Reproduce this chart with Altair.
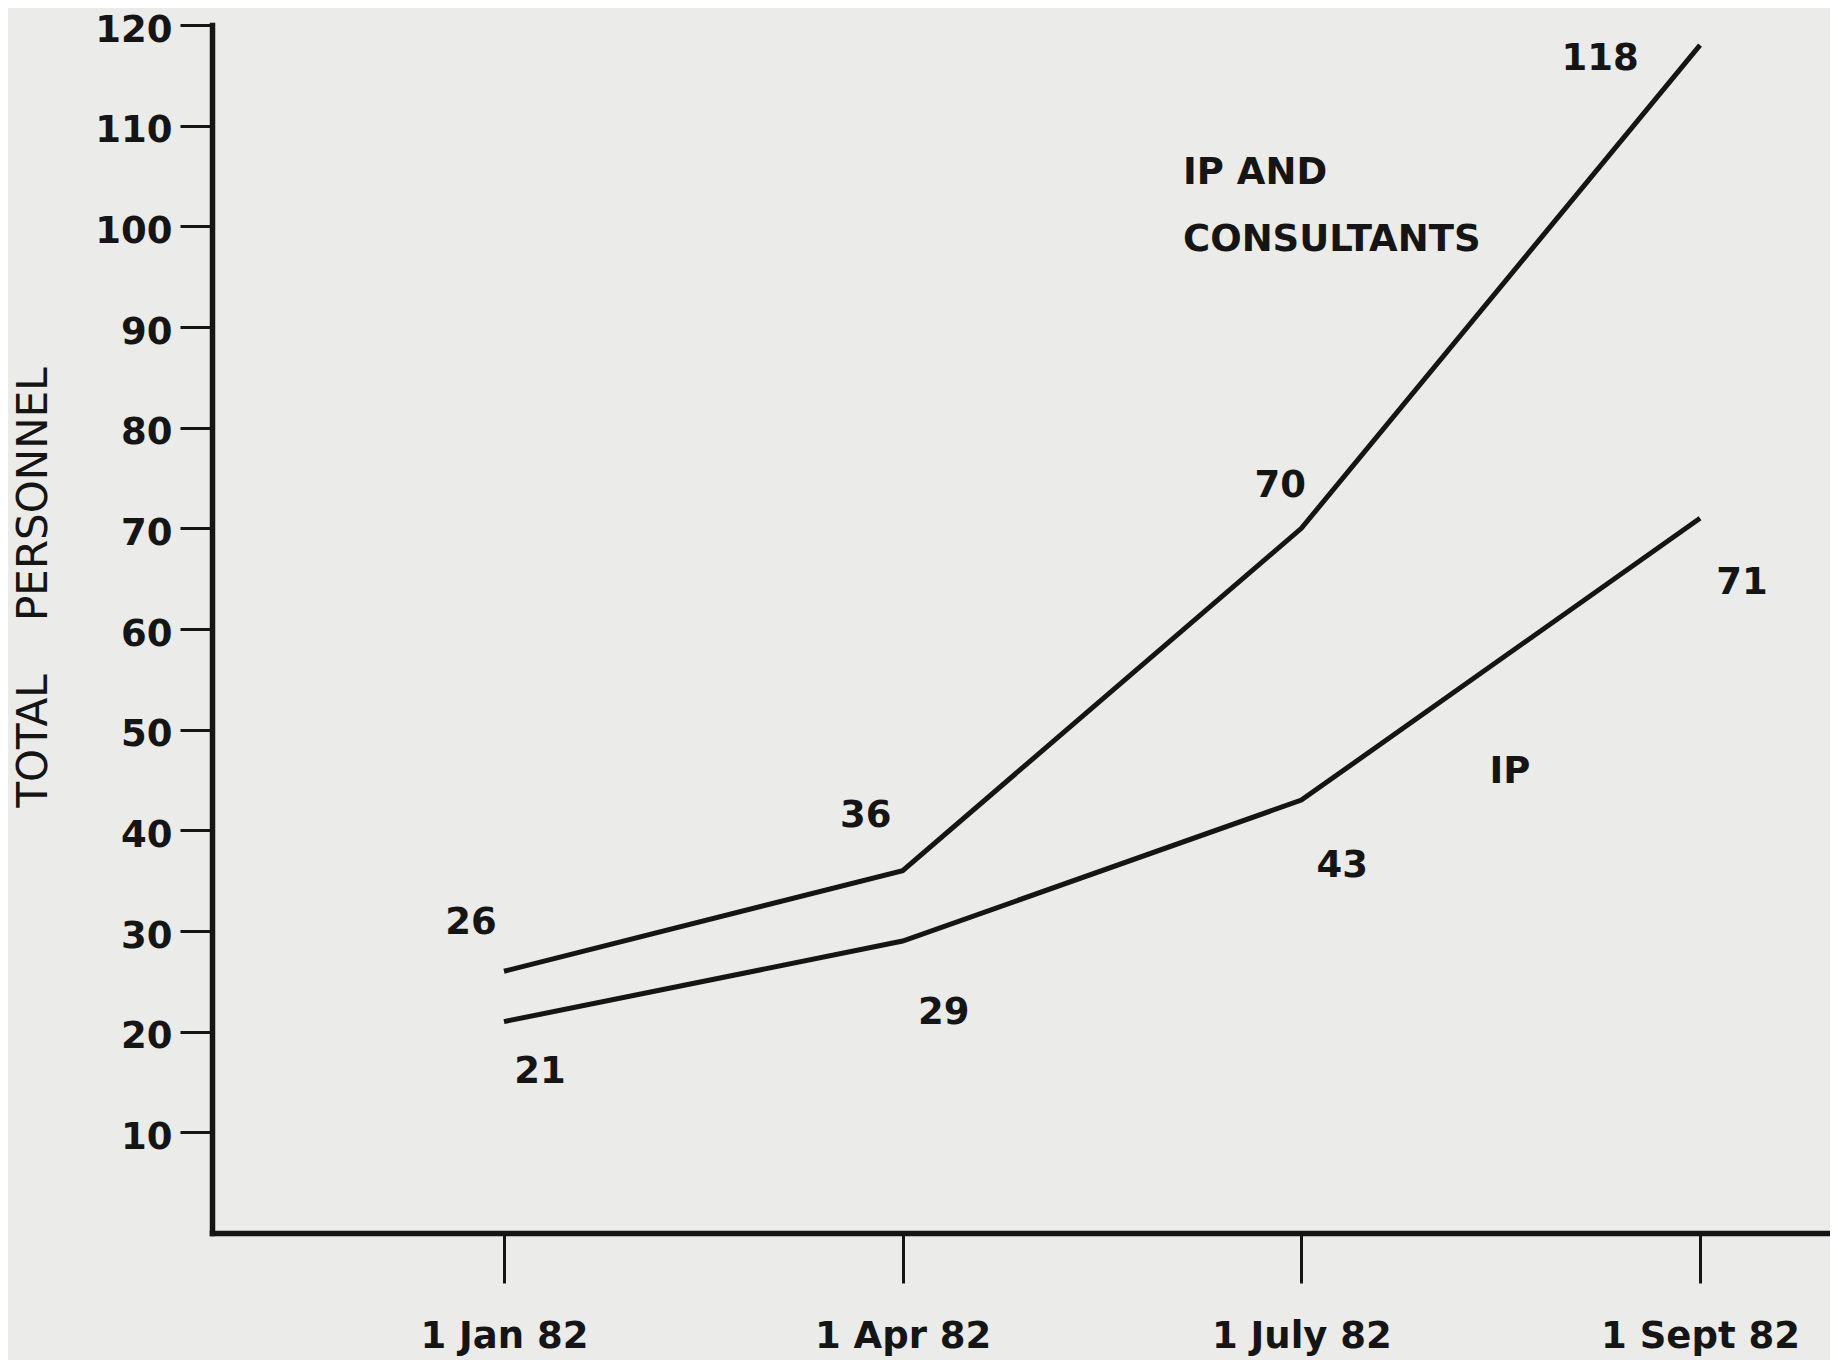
import json
import altair as alt
import pandas as pd

# ---- data ----
dates = ["1 Jan 82", "1 Apr 82", "1 July 82", "1 Sept 82"]
ip_and_consultants = [26, 36, 70, 118]
ip_only = [21, 29, 43, 71]
y_tick_values = [10, 20, 30, 40, 50, 60, 70, 80, 90, 100, 110, 120]
series_names = ["IP AND CONSULTANTS", "IP"]

rows = []
for name, vals in zip(series_names, [ip_and_consultants, ip_only]):
    for i, (d, v) in enumerate(zip(dates, vals)):
        rows.append({"idx": i, "date": d, "value": v, "series": name})
df = pd.DataFrame(rows)

# ---- styling constants ----
INK = "#151515"
BG = "#ebebe9"
BOLD_FONT = "DejaVu Sans"
FS = 37
NBSP = "\u00a0"

x_scale = alt.Scale(domain=[-0.7324, 3.326], nice=False, zero=False)
y_scale = alt.Scale(domain=[0, 120], nice=False, zero=True)

label_expr = json.dumps(dates) + "[datum.value]"

base = alt.Chart(df)

lines = base.mark_line(strokeWidth=5, color=INK, strokeJoin="miter").encode(
    x=alt.X(
        "idx:Q",
        scale=x_scale,
        axis=alt.Axis(
            values=[0, 1, 2, 3],
            labelExpr=label_expr,
            title=None,
            grid=False,
            domainColor=INK,
            domainWidth=5.5,
            domainCap="square",
            tickColor=INK,
            tickWidth=3,
            tickSize=50,
            labelPadding=35,
            labelFont=BOLD_FONT,
            labelFontWeight="bold",
            labelFontSize=FS,
            labelColor=INK,
            labelFlush=False,
            labelOverlap=False,
            labelLimit=0,
        ),
    ),
    y=alt.Y(
        "value:Q",
        scale=y_scale,
        axis=alt.Axis(
            values=y_tick_values,
            title="TOTAL" + NBSP * 4 + "PERSONNEL",
            titleFont="DejaVu Sans",
            titleFontWeight="normal",
            titleFontSize=42,
            titleColor=INK,
            titleAngle=270,
            titleAlign="center",
            titleBaseline="middle",
            titleX=-179,
            titleY=562,
            grid=False,
            domainColor=INK,
            domainWidth=5.5,
            domainCap="square",
            tickColor=INK,
            tickWidth=3,
            tickSize=32,
            labelPadding=8,
            labelOffset=5,
            labelFont=BOLD_FONT,
            labelFontWeight="bold",
            labelFontSize=FS,
            labelColor=INK,
            labelFlush=False,
            labelOverlap=False,
            labelLimit=0,
        ),
    ),
    detail="series:N",
)

# per-point label offsets (pixels) relative to each data point
upper_offsets = [(-33, -48), (-37, -55), (-21, -42), (-100, 14)]
lower_offsets = [(36, 50), (41, 72), (41, 66), (42, 65)]

layers = [lines]
for name, offs in zip(series_names, [upper_offsets, lower_offsets]):
    for i, (dx, dy) in enumerate(offs):
        layers.append(
            alt.Chart(df[(df.series == name) & (df.idx == i)])
            .mark_text(
                font=BOLD_FONT, fontWeight="bold", fontSize=FS, color=INK,
                align="center", baseline="middle", dx=dx, dy=dy,
            )
            .encode(x=alt.X("idx:Q", scale=x_scale),
                    y=alt.Y("value:Q", scale=y_scale),
                    text=alt.Text("value:Q"))
        )

# series names, placed relative to each series' last point
last_upper = df[(df.series == series_names[0]) & (df.idx == 3)]
last_lower = df[(df.series == series_names[1]) & (df.idx == 3)]
layers.append(
    alt.Chart(last_upper)
    .mark_text(font=BOLD_FONT, fontWeight="bold", fontSize=FS, color=INK,
               align="left", baseline="middle", dx=-517, dy=128,
               lineBreak="|", lineHeight=67)
    .encode(x=alt.X("idx:Q", scale=x_scale),
            y=alt.Y("value:Q", scale=y_scale),
            text=alt.value("IP AND|CONSULTANTS"))
)
layers.append(
    alt.Chart(last_lower)
    .mark_text(font=BOLD_FONT, fontWeight="bold", fontSize=FS, color=INK,
               align="center", baseline="middle", dx=-190, dy=254)
    .encode(x=alt.X("idx:Q", scale=x_scale),
            y=alt.Y("value:Q", scale=y_scale),
            text=alt.value("IP"))
)

chart = (
    alt.layer(*layers)
    .properties(
        width=1618,
        height=1208,
        autosize=alt.AutoSizeParams(type="none"),
        padding={"left": 204, "top": 17, "right": 0, "bottom": 127},
        background=BG,
    )
    .configure_view(stroke=None)
)

chart.save("out.html", embed_options={"renderer": "svg", "actions": False})
